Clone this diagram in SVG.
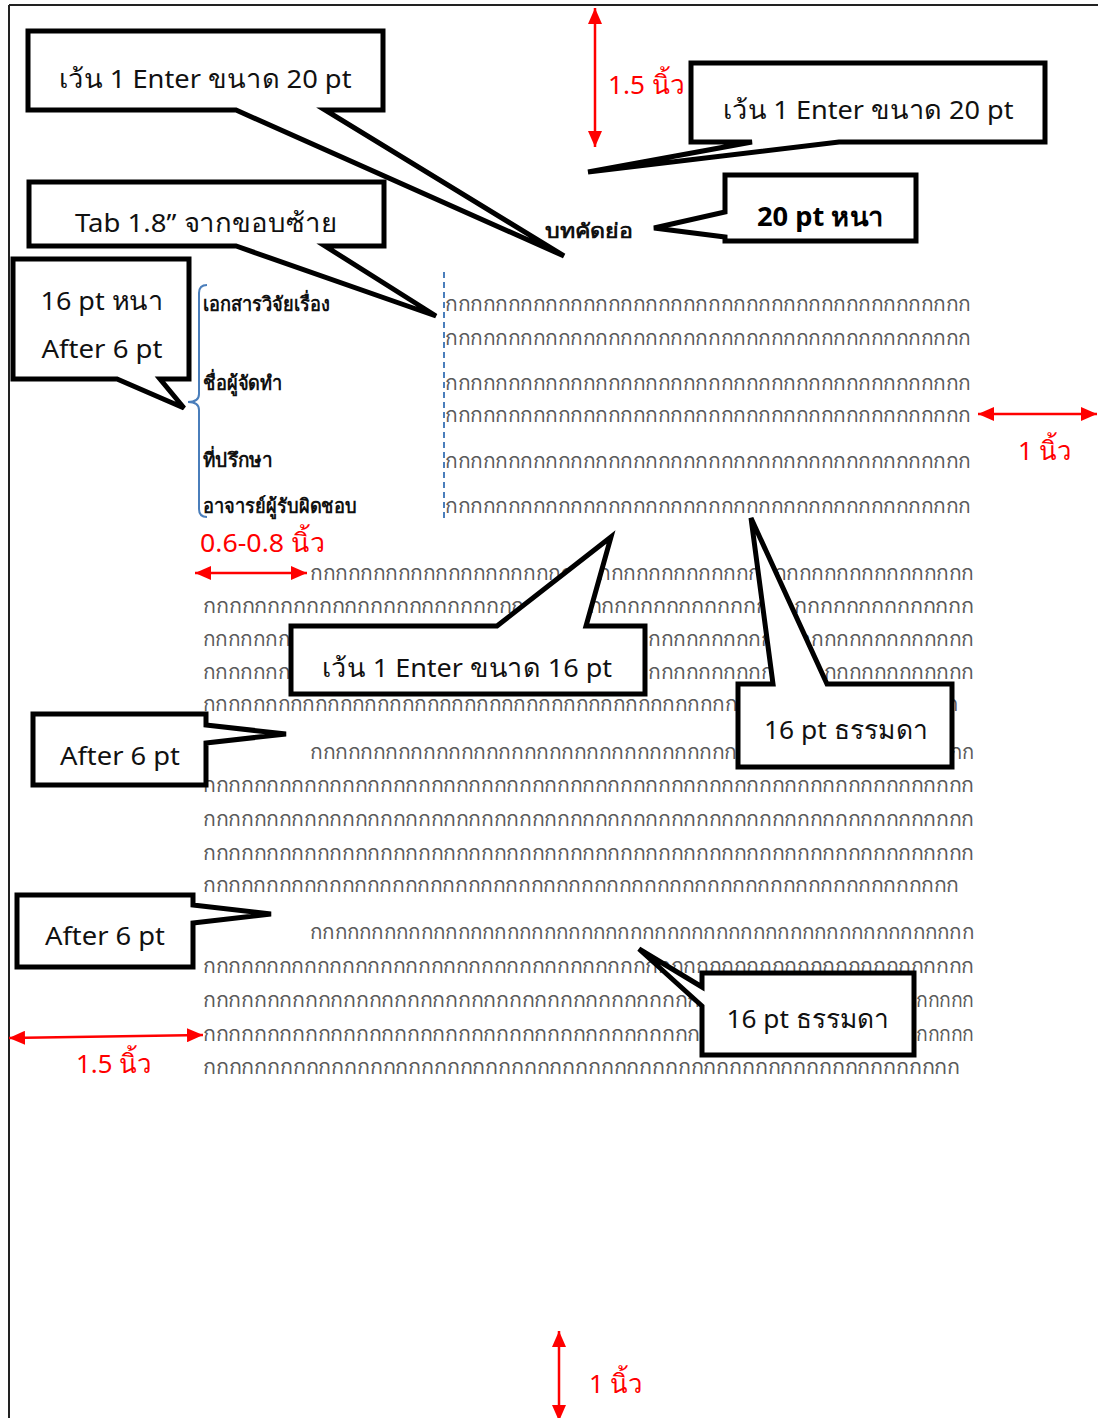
<svg xmlns="http://www.w3.org/2000/svg" width="1098" height="1418" viewBox="0 0 1098 1418">
<style>
.page{stroke:#222;stroke-width:2;fill:none}
.co{fill:#fff;stroke:#000;stroke-width:5;stroke-linejoin:miter}
.ct{font-family:"Noto Sans","DejaVu Sans",sans-serif;font-size:26px;fill:#111;text-anchor:middle}
.ctb{font-family:"Noto Sans","DejaVu Sans",sans-serif;font-size:27px;font-weight:bold;fill:#000;text-anchor:middle}
.fl{font-family:"Noto Sans","DejaVu Sans",sans-serif;font-size:20px;fill:#5a5a5a}
.lb{font-family:"Noto Sans","DejaVu Sans",sans-serif;font-size:20px;font-weight:bold;fill:#111}
.rd{font-family:"Noto Sans","DejaVu Sans",sans-serif;font-size:26px;fill:#f00}
.ar{stroke:#f00;stroke-width:2.5;fill:none;marker-start:url(#ah);marker-end:url(#ah)}
.bl{stroke:#4a7ebb;stroke-width:2;fill:none}
</style>
<defs>
<marker id="ah" viewBox="0 0 16 14" refX="16" refY="7" markerWidth="16" markerHeight="14" markerUnits="userSpaceOnUse" orient="auto-start-reverse">
<path d="M0,0 L16,7 L0,14 Z" fill="#f00"/>
</marker>
</defs>
<rect width="1098" height="1418" fill="#fff"/>
<g id="page-frame">
<line class="page" x1="9" y1="5" x2="1098" y2="5"/>
<line class="page" x1="9" y1="5" x2="9" y2="1418"/>
</g>
<g id="title"><text class="lb" x="589" y="238" font-size="22" text-anchor="middle" textLength="88" lengthAdjust="spacingAndGlyphs">บทคัดย่อ</text></g>
<g id="labels">
<text class="lb" x="203" y="311" textLength="127" lengthAdjust="spacingAndGlyphs">เอกสารวิจัยเรื่อง</text>
<text class="lb" x="203" y="390" textLength="79" lengthAdjust="spacingAndGlyphs">ชื่อผู้จัดทำ</text>
<text class="lb" x="203" y="467" textLength="69" lengthAdjust="spacingAndGlyphs">ที่ปรึกษา</text>
<text class="lb" x="203" y="513" textLength="154" lengthAdjust="spacingAndGlyphs">อาจารย์ผู้รับผิดชอบ</text>
</g>
<g id="guides">
<path class="bl" d="M207,285 Q199,285 199,293 V394 Q199,402 188,402 Q199,402 199,410 V509 Q199,517 207,517"/>
<line class="bl" x1="444" y1="272" x2="444" y2="522" stroke-dasharray="6 4"/>
</g>
<g id="body-text">
<text class="fl" x="445" y="311" textLength="526" lengthAdjust="spacingAndGlyphs">กกกกกกกกกกกกกกกกกกกกกกกกกกกกกกกกกกกกกกกกกก</text>
<text class="fl" x="445" y="345" textLength="526" lengthAdjust="spacingAndGlyphs">กกกกกกกกกกกกกกกกกกกกกกกกกกกกกกกกกกกกกกกกกก</text>
<text class="fl" x="445" y="390" textLength="526" lengthAdjust="spacingAndGlyphs">กกกกกกกกกกกกกกกกกกกกกกกกกกกกกกกกกกกกกกกกกก</text>
<text class="fl" x="445" y="422" textLength="526" lengthAdjust="spacingAndGlyphs">กกกกกกกกกกกกกกกกกกกกกกกกกกกกกกกกกกกกกกกกกก</text>
<text class="fl" x="445" y="468" textLength="526" lengthAdjust="spacingAndGlyphs">กกกกกกกกกกกกกกกกกกกกกกกกกกกกกกกกกกกกกกกกกก</text>
<text class="fl" x="445" y="513" textLength="526" lengthAdjust="spacingAndGlyphs">กกกกกกกกกกกกกกกกกกกกกกกกกกกกกกกกกกกกกกกกกก</text>

<text class="fl" x="310" y="580" textLength="664" lengthAdjust="spacingAndGlyphs">กกกกกกกกกกกกกกกกกกกกกกกกกกกกกกกกกกกกกกกกกกกกกกกกกกกกก</text>
<text class="fl" x="203" y="613" textLength="771" lengthAdjust="spacingAndGlyphs">กกกกกกกกกกกกกกกกกกกกกกกกกกกกกกกกกกกกกกกกกกกกกกกกกกกกกกกกกกกก</text>
<text class="fl" x="203" y="646" textLength="87" lengthAdjust="spacingAndGlyphs">กกกกกกก</text>
<text class="fl" x="648" y="646" textLength="326" lengthAdjust="spacingAndGlyphs">กกกกกกกกกกกกกกกกกกกกกกกกกก</text>
<text class="fl" x="203" y="679" textLength="87" lengthAdjust="spacingAndGlyphs">กกกกกกก</text>
<text class="fl" x="648" y="679" textLength="326" lengthAdjust="spacingAndGlyphs">กกกกกกกกกกกกกกกกกกกกกกกกกก</text>
<text class="fl" x="203" y="711" textLength="534" lengthAdjust="spacingAndGlyphs">กกกกกกกกกกกกกกกกกกกกกกกกกกกกกกกกกกกกกกกกกกก</text>
<text class="fl" x="946" y="711" textLength="12" lengthAdjust="spacingAndGlyphs">ก</text>

<text class="fl" x="310" y="759" textLength="427" lengthAdjust="spacingAndGlyphs">กกกกกกกกกกกกกกกกกกกกกกกกกกกกกกกกกก</text>
<text class="fl" x="950" y="759" textLength="24" lengthAdjust="spacingAndGlyphs">กก</text>
<text class="fl" x="203" y="792" textLength="771" lengthAdjust="spacingAndGlyphs">กกกกกกกกกกกกกกกกกกกกกกกกกกกกกกกกกกกกกกกกกกกกกกกกกกกกกกกกกกกกก</text>
<text class="fl" x="203" y="826" textLength="771" lengthAdjust="spacingAndGlyphs">กกกกกกกกกกกกกกกกกกกกกกกกกกกกกกกกกกกกกกกกกกกกกกกกกกกกกกกกกกกกก</text>
<text class="fl" x="203" y="860" textLength="771" lengthAdjust="spacingAndGlyphs">กกกกกกกกกกกกกกกกกกกกกกกกกกกกกกกกกกกกกกกกกกกกกกกกกกกกกกกกกกกกก</text>
<text class="fl" x="203" y="892" textLength="756" lengthAdjust="spacingAndGlyphs">กกกกกกกกกกกกกกกกกกกกกกกกกกกกกกกกกกกกกกกกกกกกกกกกกกกกกกกกกกกก</text>

<text class="fl" x="310" y="939" textLength="664" lengthAdjust="spacingAndGlyphs">กกกกกกกกกกกกกกกกกกกกกกกกกกกกกกกกกกกกกกกกกกกกกกกกกกกกกก</text>
<text class="fl" x="203" y="973" textLength="771" lengthAdjust="spacingAndGlyphs">กกกกกกกกกกกกกกกกกกกกกกกกกกกกกกกกกกกกกกกกกกกกกกกกกกกกกกกกกกกกก</text>
<text class="fl" x="203" y="1007" textLength="497" lengthAdjust="spacingAndGlyphs">กกกกกกกกกกกกกกกกกกกกกกกกกกกกกกกกกกกกกกก</text>
<text class="fl" x="916" y="1007" textLength="58" lengthAdjust="spacingAndGlyphs">กกกกก</text>
<text class="fl" x="203" y="1041" textLength="497" lengthAdjust="spacingAndGlyphs">กกกกกกกกกกกกกกกกกกกกกกกกกกกกกกกกกกกกกกก</text>
<text class="fl" x="916" y="1041" textLength="58" lengthAdjust="spacingAndGlyphs">กกกกก</text>
<text class="fl" x="203" y="1074" textLength="757" lengthAdjust="spacingAndGlyphs">กกกกกกกกกกกกกกกกกกกกกกกกกกกกกกกกกกกกกกกกกกกกกกกกกกกกกกกกกกก</text>
</g>
<g id="connectors">
<line class="ar" x1="595" y1="8" x2="595" y2="147"/>
<line class="ar" x1="978" y1="414" x2="1097" y2="414"/>
<line class="ar" x1="195" y1="573" x2="307" y2="573"/>
<line class="ar" x1="9" y1="1038" x2="203" y2="1035"/>
<line class="ar" x1="559" y1="1331" x2="559" y2="1421"/>
</g>
<g id="measure-labels">
<text class="rd" x="608" y="94" textLength="77" lengthAdjust="spacingAndGlyphs">1.5 นิ้ว</text>
<text class="rd" x="1018" y="460" textLength="54" lengthAdjust="spacingAndGlyphs">1 นิ้ว</text>
<text class="rd" x="200" y="552" textLength="125" lengthAdjust="spacingAndGlyphs">0.6-0.8 นิ้ว</text>
<text class="rd" x="76" y="1073" textLength="76" lengthAdjust="spacingAndGlyphs">1.5 นิ้ว</text>
<text class="rd" x="589" y="1393" textLength="54" lengthAdjust="spacingAndGlyphs">1 นิ้ว</text>
</g>
<g id="callout-enter20-left">
<path class="co" d="M28,31 H383 V110 H325 L564,256 L236,110 H28 Z"/>
<text class="ct" x="205" y="88" textLength="293" lengthAdjust="spacingAndGlyphs">เว้น 1 Enter ขนาด 20 pt</text>
</g>
<g id="callout-enter20-right">
<path class="co" d="M691,63 H1045 V142 H839 L588,172 L752,142 H691 Z"/>
<text class="ct" x="868" y="119" textLength="291" lengthAdjust="spacingAndGlyphs">เว้น 1 Enter ขนาด 20 pt</text>
</g>
<g id="callout-20pt-bold">
<path class="co" d="M725,175 H916 V241 H725 V237 L654,228 L725,212 Z"/>
<text class="ctb" x="820" y="226" textLength="126" lengthAdjust="spacingAndGlyphs">20 pt หนา</text>
</g>
<g id="callout-tab">
<path class="co" d="M29,182 H384 V246 H325 L436,316 L236,246 H29 Z"/>
<text class="ct" x="206" y="232" textLength="262" lengthAdjust="spacingAndGlyphs">Tab 1.8” จากขอบซ้าย</text>
</g>
<g id="callout-16pt-bold">
<path class="co" d="M13,259 H189 V379 H160 L184,408 L117,379 H13 Z"/>
<text class="ct" x="102" y="310" textLength="123" lengthAdjust="spacingAndGlyphs">16 pt หนา</text>
<text class="ct" x="102" y="358" textLength="121" lengthAdjust="spacingAndGlyphs">After 6 pt</text>
</g>
<g id="callout-enter16">
<path class="co" d="M291,626 H497 L611,537 L586,626 H645 V694 H291 Z"/>
<text class="ct" x="467" y="677" textLength="290" lengthAdjust="spacingAndGlyphs">เว้น 1 Enter ขนาด 16 pt</text>
</g>
<g id="callout-16pt-normal-1">
<path class="co" d="M738,684 H773 L751,518 L827,684 H952 V767 H738 Z"/>
<text class="ct" x="846" y="739" textLength="164" lengthAdjust="spacingAndGlyphs">16 pt ธรรมดา</text>
</g>
<g id="callout-after6-1">
<path class="co" d="M33,714 H206 V725 L286,734 L206,743 V785 H33 Z"/>
<text class="ct" x="120" y="765" textLength="120" lengthAdjust="spacingAndGlyphs">After 6 pt</text>
</g>
<g id="callout-after6-2">
<path class="co" d="M17,895 H193 V905 L271,914 L193,923 V967 H17 Z"/>
<text class="ct" x="105" y="945" textLength="120" lengthAdjust="spacingAndGlyphs">After 6 pt</text>
</g>
<g id="callout-16pt-normal-2">
<path class="co" d="M702,973 H914 V1055 H702 V1006 L639,949 L702,987 Z"/>
<text class="ct" x="808" y="1028" textLength="163" lengthAdjust="spacingAndGlyphs">16 pt ธรรมดา</text>
</g>
</svg>
